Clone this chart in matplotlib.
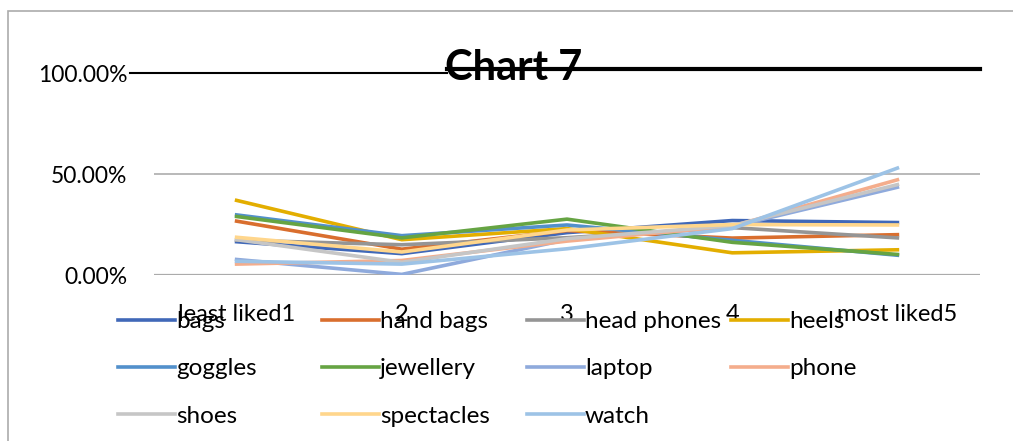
import matplotlib
matplotlib.use("Agg")
import matplotlib.pyplot as plt
from matplotlib.patches import Rectangle

plt.rcParams['font.family'] = ['Lato', 'DejaVu Sans']

# ratings per item, share of answers (%) for each level
categories = ['least liked1', '2', '3', '4', 'most liked5']
bags = [16.5, 10.6, 21.0, 27.0, 26.0]
hand_bags = [26.7, 12.8, 22.0, 18.3, 20.0]
head_phones = [17.3, 15.0, 18.5, 23.5, 18.4]
heels = [37.0, 17.5, 23.0, 11.0, 12.5]
goggles = [29.8, 19.5, 24.8, 17.2, 9.8]
jewellery = [29.0, 18.4, 27.7, 16.2, 10.2]
laptop = [7.7, 0.3, 17.5, 24.0, 43.5]
phone = [5.4, 7.2, 16.8, 24.2, 47.2]
shoes = [17.5, 6.3, 18.0, 24.5, 44.8]
spectacles = [18.7, 11.4, 22.3, 25.0, 24.8]
watch = [6.8, 5.4, 13.0, 23.0, 53.0]

series = [('bags', bags, '#4068B8'),
          ('hand bags', hand_bags, '#D96E2E'),
          ('head phones', head_phones, '#959595'),
          ('heels', heels, '#E3AE00'),
          ('goggles', goggles, '#5290CB'),
          ('jewellery', jewellery, '#66A443'),
          ('laptop', laptop, '#8FAADC'),
          ('phone', phone, '#F4AD8C'),
          ('shoes', shoes, '#C6C6C6'),
          ('spectacles', spectacles, '#FFD68C'),
          ('watch', watch, '#9DC3E6')]

W, H = 1013, 441
fig = plt.figure(figsize=(W / 100, H / 100), dpi=100)
ax = fig.add_axes([154 / W, 1 - 275 / H, 826 / W, 201.7 / H])

x = list(range(len(categories)))
lines = {}
for name, vals, col in series:
    ln, = ax.plot(x, [v / 100 for v in vals], color=col, lw=2.6,
                  solid_joinstyle='miter', label=name, zorder=3)
    lines[name] = ln

ax.set_xlim(-0.5, len(categories) - 0.5)
ax.set_ylim(0, 1)
for s in ax.spines.values():
    s.set_visible(False)

# gridlines
ax.axhline(0.5, color='#A6A6A6', lw=1.1, zorder=1)
ax.axhline(0.0, color='#ABABAB', lw=1.6, zorder=1)
# top line: thin on the left, heavy behind the title
ax.plot([-0.029, 0.355], [1.0, 1.0], color='black', lw=1.5,
        transform=ax.transAxes, clip_on=False)
ax.plot([0.355, 1.0], [1.02, 1.02], color='black', lw=3.0,
        transform=ax.transAxes, clip_on=False)

ax.set_yticks([0, 0.5, 1.0])
ax.set_yticklabels(['0.00%', '50.00%', '100.00%'])
ax.tick_params(axis='y', length=0, pad=19, labelsize=16.5)
ax.set_xticks(x)
ax.set_xticklabels(categories)
ax.tick_params(axis='x', length=0, pad=21, labelsize=17)

fig.text(0.507, 1 - 80 / H, 'Chart 7', ha='center', va='baseline',
         fontsize=30, fontweight='bold', zorder=5)

# legend: four columns laid out separately
cols = [['bags', 'goggles', 'shoes'],
        ['hand bags', 'jewellery', 'spectacles'],
        ['head phones', 'laptop', 'watch'],
        ['heels', 'phone']]
col_x = [118, 322, 527, 731]
for names, cx in zip(cols, col_x):
    fig.legend(handles=[lines[n] for n in names], labels=names,
               loc='upper left', bbox_to_anchor=(cx / W, 1 - 311 / H),
               bbox_transform=fig.transFigure, frameon=False,
               borderpad=0, borderaxespad=0, handlelength=2.33,
               handletextpad=0.05, labelspacing=1.08, fontsize=17.5)

# chart area border
fig.add_artist(Rectangle((8 / W, -0.1), 1.2, 1.1 - 11 / H, fill=False,
                         edgecolor='#ABABAB', lw=1.2,
                         transform=fig.transFigure))

fig.savefig('out.png', dpi=100)
